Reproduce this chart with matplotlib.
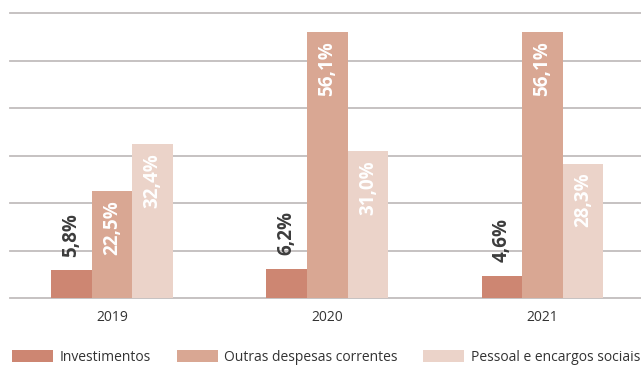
import matplotlib
matplotlib.use("Agg")
import matplotlib.pyplot as plt
from matplotlib.patches import Patch
import numpy as np

years = ["2019", "2020", "2021"]
series_names = ["Investimentos", "Outras despesas correntes", "Pessoal e encargos sociais"]
investimentos = [5.8, 6.2, 4.6]
outras_despesas = [22.5, 56.1, 56.1]
pessoal = [32.4, 31.0, 28.3]

colors = ["#CD8672", "#D9A793", "#EBD3C9"]
grid_color = "#C2BDBD"
dark_text = "#3C3C3C"

plt.rcParams["font.family"] = ["Open Sans", "DejaVu Sans"]

W, H = 641, 366
fig = plt.figure(figsize=(W / 100, H / 100), dpi=100)

# axes placed in pixel terms
left_px, right_px, top_px, bottom_px = 10, 641, 13.3, 298
ax = fig.add_axes([left_px / W, 1 - bottom_px / H,
                   (right_px - left_px) / W, (bottom_px - top_px) / H])

x = np.arange(len(years))
unit = 215.25  # pixels per category step
bw = 40.6 / unit
ax.set_xlim((left_px - 112) / unit, (right_px - 112) / unit)
ax.set_ylim(0, 60)

series = [investimentos, outras_despesas, pessoal]
offsets = [-bw, 0, bw]
for vals, off, col in zip(series, offsets, colors):
    bars = ax.bar(x + off, vals, width=bw, color=col, zorder=3, linewidth=0)
    for b, v in zip(bars, vals):
        label = f"{v:.1f}%".replace(".", ",")
        cx = b.get_x() + b.get_width() / 2
        if col == colors[0]:
            ax.annotate(label, (cx, v), xytext=(0, 10), textcoords="offset points",
                        rotation=90, ha="center", va="bottom", color=dark_text,
                        fontsize=13.5, fontweight="bold", zorder=4)
        else:
            ax.annotate(label, (cx, v), xytext=(0, -6.5), textcoords="offset points",
                        rotation=90, ha="center", va="top", color="white",
                        fontsize=13.5, fontweight="bold", zorder=4)

ax.set_yticks(np.arange(0, 61, 10))
ax.yaxis.grid(True, color=grid_color, linewidth=1.3, zorder=0, clip_on=False)
ax.set_axisbelow(True)
for s in ax.spines.values():
    s.set_visible(False)
ax.tick_params(axis="y", left=False, labelleft=False)
ax.set_xticks(x)
ax.set_xticklabels(years, fontsize=10, color="#333333")
ax.tick_params(axis="x", length=0, pad=8.5)

handles = [Patch(facecolor=c, edgecolor="none") for c in colors]
fig.legend(handles, series_names, loc="center left",
           bbox_to_anchor=(12 / W, 1 - 357.5 / H), ncol=3, frameon=False,
           fontsize=10, handlelength=2.95, handleheight=0.94, handletextpad=0.5,
           columnspacing=1.83, borderpad=0, borderaxespad=0, labelcolor="#333333")

fig.savefig("out.png", dpi=100)
